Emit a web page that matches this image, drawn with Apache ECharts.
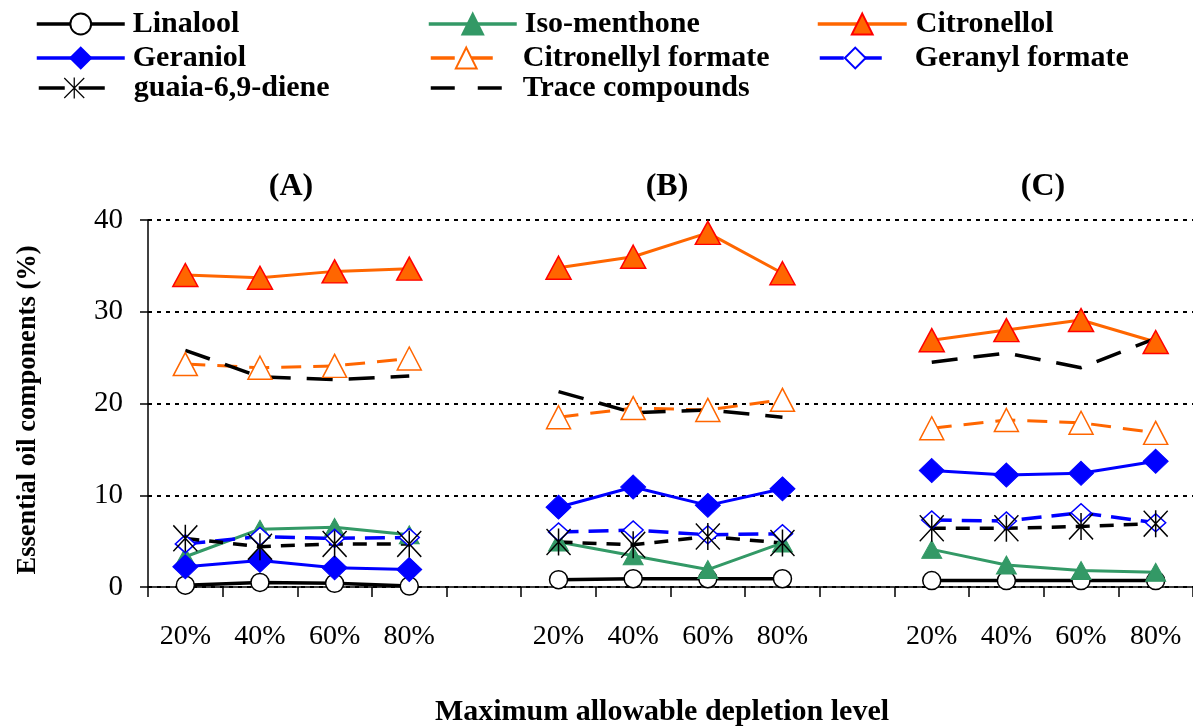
<!DOCTYPE html>
<html>
<head>
<meta charset="utf-8">
<script src="https://cdn.jsdelivr.net/npm/echarts@6/dist/echarts.min.js"></script>
<style>html,body{margin:0;padding:0;background:#fff;}#c{width:1193px;height:727px;}</style>
</head>
<body>
<div id="c"></div>
<script>
// Categories: three groups (A, B, C) of depletion levels, separated by an empty slot
const categories = ['20%','40%','60%','80%','','20%','40%','60%','80%','','20%','40%','60%','80%'];
const groupTitles = ['(A)','(B)','(C)'];
const yTicks = [0, 10, 20, 30, 40];

// Series values (A 20..80, gap, B 20..80, gap, C 20..80)
const linalool        = [0.2, 0.5, 0.4, 0.1, '-', 0.8, 0.9, 0.9, 0.9, '-', 0.7, 0.7, 0.7, 0.7];
const isoMenthone     = [3.3, 6.3, 6.5, 5.7, '-', 4.9, 3.4, 1.9, 4.8, '-', 4.1, 2.4, 1.8, 1.6];
const citronellol     = [34.0, 33.7, 34.4, 34.7, '-', 34.8, 36.0, 38.6, 34.2, '-', 26.9, 28.0, 29.1, 26.7];
const geraniol        = [2.2, 2.9, 2.1, 1.9, '-', 8.7, 10.9, 8.9, 10.7, '-', 12.7, 12.2, 12.4, 13.7];
const citronellylForm = [24.3, 23.9, 24.1, 24.9, '-', 18.5, 19.5, 19.3, 20.4, '-', 17.3, 18.2, 17.9, 16.8];
const geranylForm     = [4.7, 5.5, 5.3, 5.4, '-', 6.0, 6.2, 5.7, 5.8, '-', 7.3, 7.2, 8.1, 7.0];
const guaiadiene      = [5.3, 4.4, 4.7, 4.7, '-', 4.9, 4.6, 5.5, 4.8, '-', 6.4, 6.4, 6.6, 6.9];
const traceCompounds  = [25.8, 22.9, 22.6, 23.0, '-', 21.3, 19.0, 19.3, 18.5, '-', 24.5, 25.5, 23.9, 27.1];

const names = ['Linalool','Iso-menthone','Citronellol','Geraniol','Citronellyl formate','Geranyl formate','guaia-6,9-diene','Trace compounds'];

const SERIF = '"Liberation Serif","Times New Roman",serif';
const asterisk = 'path://M47 0L53 0L53 100L47 100Z M0 4L4 0L100 96L96 100Z M96 0L100 4L4 100L0 96Z';

function line(name, data, color, opts) {
  return Object.assign({
    name: name, type: 'line', data: data, connectNulls: false,
    animation: false,
    lineStyle: { color: color, width: 3, type: 'solid' },
    emphasis: { disabled: true }
  }, opts);
}

const series = [
  line(names[0], linalool, '#000000', { symbol: 'circle', symbolSize: 18, lineStyle: { color: '#000', width: 3.5 }, itemStyle: { color: '#ffffff', borderColor: '#000000', borderWidth: 1.5 } }),
  line(names[1], isoMenthone, '#339966', { symbol: 'triangle', symbolSize: [20, 18], itemStyle: { color: '#339966', borderColor: '#339966', borderWidth: 1 } }),
  line(names[2], citronellol, '#FF6600', { symbol: 'triangle', symbolSize: [25, 23], itemStyle: { color: '#FF6600', borderColor: '#FF0000', borderWidth: 1.5 } }),
  line(names[3], geraniol, '#0000FF', { symbol: 'diamond', symbolSize: [25, 24], itemStyle: { color: '#0000FF', borderColor: '#0000FF', borderWidth: 1 } }),
  line(names[4], citronellylForm, '#FF6600', { symbol: 'triangle', symbolSize: [24, 23], lineStyle: { color: '#FF6600', width: 3, type: [20, 12] }, itemStyle: { color: '#ffffff', borderColor: '#FF6600', borderWidth: 1.5 } }),
  line(names[5], geranylForm, '#0000FF', { symbol: 'diamond', symbolSize: [20, 18], lineStyle: { color: '#0000FF', width: 3.5, type: [20, 10] }, itemStyle: { color: '#ffffff', borderColor: '#0000FF', borderWidth: 1.5 } }),
  line(names[6], guaiadiene, '#000000', { symbol: asterisk, symbolSize: [25, 27], lineStyle: { color: '#000000', width: 3.5, type: [14, 10] }, itemStyle: { color: '#000000', borderWidth: 0 } }),
  line(names[7], traceCompounds, '#000000', { symbol: 'none', lineStyle: { color: '#000000', width: 3.5, type: [26, 16] } })
];

// legend items: [name, left, centerY, itemWidth, textPad, dash]
const legendPos = [
  [names[0], 35, 25, 88, 3, 'solid'], [names[3], 35, 59, 88, 3, 'solid'], [names[6], 37, 89, 71, 19, [26, 14]],
  [names[1], 427, 25, 88, 3, 'solid'], [names[4], 429, 59, 71, 16, [24, 14]], [names[7], 429, 89, 71, 16, [24, 23]],
  [names[2], 816, 25, 89, 4, 'solid'], [names[5], 818, 59, 71, 19, [24, 14]]
];
const legends = legendPos.map(function (p) {
  const item = { name: p[0] };
  if (p[0] === names[7]) {
    item.itemStyle = { color: 'rgba(0,0,0,0)', borderColor: 'rgba(0,0,0,0)', opacity: 0 };
  }
  return {
    data: [item], left: p[1], top: p[2] - 16, itemWidth: p[3], itemHeight: 26,
    itemGap: 0, selectedMode: false, padding: 0,
    lineStyle: { width: 3.5, type: p[5] },
    textStyle: { fontFamily: SERIF, fontWeight: 'bold', fontSize: 30, color: '#000', padding: [0, 0, 0, p[4]] }
  };
});

const groupCenters = [291, 667, 1043];
const graphics = groupTitles.map(function (t, i) {
  return { type: 'text', x: groupCenters[i], y: 187, style: { text: t, textAlign: 'center', textVerticalAlign: 'middle', font: 'bold 32px ' + SERIF, fill: '#000' } };
});
graphics.push({ type: 'text', x: 662, y: 712, style: { text: 'Maximum allowable depletion level', textAlign: 'center', textVerticalAlign: 'middle', font: 'bold 30px ' + SERIF, fill: '#000' } });
graphics.push({ type: 'text', x: 28, y: 410, rotation: Math.PI / 2, style: { text: 'Essential oil components (%)', textAlign: 'center', textVerticalAlign: 'middle', font: 'bold 26.5px ' + SERIF, fill: '#000' } });

const chart = echarts.init(document.getElementById('c'), null, { renderer: 'canvas' });
chart.setOption({
  animation: false,
  backgroundColor: '#ffffff',
  grid: { left: 148, right: 0, top: 220, bottom: 140, containLabel: false },
  legend: legends,
  graphic: graphics,
  xAxis: {
    type: 'category', data: categories, boundaryGap: true,
    axisLine: { lineStyle: { color: '#000', width: 1.5 } },
    axisTick: { show: true, interval: 0, length: 10, lineStyle: { color: '#000', width: 1.5 } },
    axisLabel: { interval: 0, margin: 36, fontFamily: SERIF, fontSize: 28, color: '#000' },
    splitLine: { show: false }
  },
  yAxis: {
    type: 'value', min: yTicks[0], max: yTicks[yTicks.length - 1], interval: 10,
    axisLine: { show: true, lineStyle: { color: '#000', width: 1.5 } },
    axisTick: { show: true, length: 8, lineStyle: { color: '#000', width: 1.5 } },
    axisLabel: { margin: 25, fontFamily: SERIF, fontSize: 29, color: '#000' },
    splitLine: { show: true, lineStyle: { color: '#000', width: 2, type: [4, 5] } }
  },
  series: series
});
</script>
</body>
</html>
